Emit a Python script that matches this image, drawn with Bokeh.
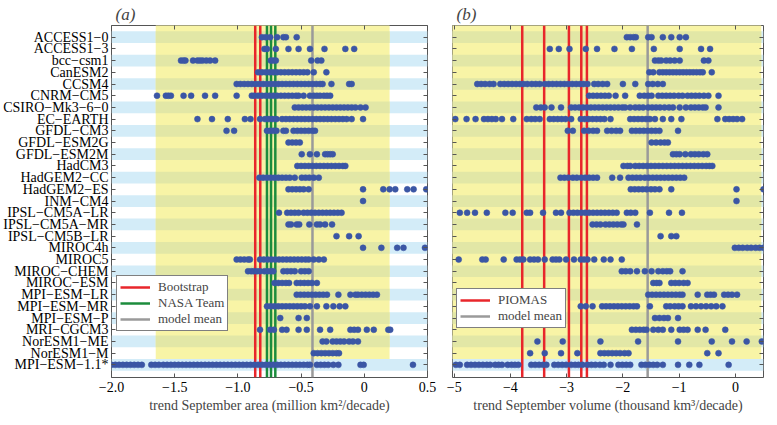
from bokeh.plotting import figure
from bokeh.models import Range1d, FixedTicker, LinearAxis, Legend, LegendItem
from bokeh.layouts import row
from bokeh.embed import file_html
from bokeh.resources import INLINE

models = ["ACCESS1−0", "ACCESS1−3", "bcc−csm1", "CanESM2", "CCSM4", "CNRM−CM5",
          "CSIRO−Mk3−6−0", "EC−EARTH", "GFDL−CM3", "GFDL−ESM2G", "GFDL−ESM2M",
          "HadCM3", "HadGEM2−CC", "HadGEM2−ES", "INM−CM4", "IPSL−CM5A−LR",
          "IPSL−CM5A−MR", "IPSL−CM5B−LR", "MIROC4h", "MIROC5", "MIROC−CHEM",
          "MIROC−ESM", "MPI−ESM−LR", "MPI−ESM−MR", "MPI−ESM−P", "MRI−CGCM3",
          "NorESM1−ME", "NorESM1−M", "MPI−ESM−1.1*"]

# September sea-ice AREA trends per model member (million km2/decade)
area_trends = [
    [-0.81, -0.78, -0.745, -0.69, -0.64, -0.62, -0.535],
    [-0.79, -0.77, -0.70, -0.60, -0.52, -0.43, -0.315, -0.15, -0.08],
    [-1.45, -1.43, -1.415, -1.355, -1.32, -1.30, -1.28, -1.25, -1.22, -1.18, -0.74, -0.72, -0.70, -0.42, -0.37, -0.34],
    [-0.84, -0.81, -0.78, -0.75, -0.72, -0.69, -0.66, -0.63, -0.60, -0.57, -0.54, -0.51, -0.48, -0.45, -0.40, -0.30],
    [-1.01, -0.98, -0.95, -0.92, -0.89, -0.86, -0.83, -0.80, -0.77, -0.74, -0.71, -0.68, -0.65, -0.62, -0.59, -0.56,
     -0.53, -0.50, -0.47, -0.44, -0.41, -0.38, -0.35, -0.33, -0.26, -0.12, -0.10],
    [-1.64, -1.57, -1.55, -1.53, -1.43, -1.37, -1.26, -1.18, -1.01, -0.89, -0.87, -0.84, -0.81, -0.78, -0.75, -0.72,
     -0.69, -0.66, -0.63, -0.60, -0.57, -0.54, -0.52, -0.48, -0.43, -0.40, -0.375, -0.35, -0.32, -0.295, -0.27],
    [-0.55, -0.52, -0.49, -0.46, -0.43, -0.40, -0.37, -0.34, -0.31, -0.28, -0.25, -0.22, -0.19, -0.16, -0.13, -0.10,
     -0.07, -0.03, 0.01],
    [-1.32, -1.205, -1.08, -0.945, -0.90, -0.825, -0.785, -0.755, -0.725, -0.695, -0.65, -0.62, -0.59, -0.56, -0.53,
     -0.50, -0.47, -0.44, -0.41, -0.38, -0.35, -0.32, -0.29, -0.26, -0.23, -0.20, -0.17, -0.14, -0.10, -0.01],
    [-1.09, -1.03, -0.77, -0.745, -0.72, -0.695, -0.64, -0.62, -0.56, -0.53, -0.50, -0.47, -0.44, -0.41, -0.39],
    [-0.60, -0.57, -0.54, -0.51],
    [-0.495, -0.43, -0.375, -0.31, -0.29, -0.27, -0.25],
    [-0.53, -0.50, -0.47, -0.44, -0.41, -0.38, -0.35, -0.32, -0.29, -0.26, -0.23, -0.20, -0.17, -0.15],
    [-0.83, -0.80, -0.77, -0.74, -0.71, -0.68, -0.65, -0.62, -0.59, -0.55, -0.495, -0.465, -0.435, -0.40, -0.36],
    [-0.60, -0.57, -0.54, -0.51, -0.48, -0.44, -0.01, 0.15, 0.20, 0.245, 0.34, 0.39, 0.49],
    [-0.01],
    [-0.675, -0.61, -0.58, -0.55, -0.52, -0.48, -0.45, -0.42, -0.39, -0.36, -0.33, -0.30, -0.27, -0.24, -0.21, -0.18],
    [-0.60, -0.58, -0.535, -0.515, -0.435, -0.375, -0.35, -0.31, -0.255],
    [-0.22, -0.12, -0.045],
    [-0.01, 0.135, 0.26, 0.31, 0.48],
    [-1.01, -0.98, -0.95, -0.92, -0.905, -0.825, -0.795, -0.765, -0.735, -0.705, -0.675, -0.645, -0.615, -0.585,
     -0.555, -0.525, -0.495, -0.465, -0.44, -0.40, -0.36, -0.32],
    [-0.92, -0.895, -0.875, -0.85, -0.825, -0.79, -0.765, -0.74, -0.72, -0.64, -0.61, -0.58, -0.55, -0.50, -0.47, -0.44],
    [-0.71, -0.68, -0.65, -0.62, -0.595, -0.535, -0.505, -0.475, -0.445, -0.415, -0.375],
    [-0.535, -0.505, -0.475, -0.445, -0.415, -0.385, -0.355, -0.325, -0.295, -0.205, -0.11, -0.07, -0.05, -0.02,
     0.01, 0.04, 0.07, 0.10],
    [-0.77, -0.74, -0.71, -0.68, -0.65, -0.62, -0.59, -0.56, -0.53, -0.50, -0.47, -0.43, -0.375, -0.30, -0.245,
     -0.195, -0.15],
    [-0.665, -0.52, -0.455],
    [-0.825, -0.745, -0.715, -0.65, -0.615, -0.52, -0.455, -0.35, -0.27, -0.11, -0.08, -0.05, 0.02, 0.075, 0.19, 0.205],
    [-0.33, -0.30, -0.25, -0.22, -0.19, -0.16, -0.12, -0.09, -0.05],
    [-0.40, -0.37, -0.34, -0.31, -0.28, -0.25, -0.22, -0.20],
    [-2.00, -1.97, -1.94, -1.91, -1.88, -1.85, -1.82, -1.79, -1.76, -1.685, -1.655, -1.625, -1.59, -1.56, -1.53,
     -1.50, -1.47, -1.44, -1.41, -1.38, -1.35, -1.32, -1.29, -1.26, -1.23, -1.20, -1.17, -1.14, -1.11, -1.08, -1.05,
     -1.02, -0.99, -0.96, -0.93, -0.90, -0.87, -0.84, -0.81, -0.78, -0.75, -0.72, -0.69, -0.66, -0.63, -0.60, -0.57,
     -0.54, -0.51, -0.48, -0.45, -0.43, -0.375, -0.345, -0.315, -0.285, -0.245, -0.205, -0.03, -0.005, 0.385],
]

# September sea-ice VOLUME trends per model member (thousand km3/decade)
volume_trends = [
    [-1.93, -1.87, -1.81, -1.77, -1.55, -1.49, -1.29, -1.14, -0.99, -0.88],
    [-3.30, -3.14, -2.95, -2.66, -2.46, -2.15, -1.84, -1.45, -0.99, -0.61, -0.45],
    [-1.43, -1.37, -1.32, -1.23, -1.16, -1.08, -0.99, -0.56, -0.48],
    [-1.53, -1.46, -1.35, -1.29, -1.23, -1.17, -1.11, -1.05, -0.99, -0.93, -0.87, -0.81, -0.75, -0.69, -0.63, -0.58, -0.42],
    [-4.59, -4.52, -4.45, -4.37, -4.30, -4.18, -4.11, -4.04, -3.97, -3.90, -3.83, -3.77, -3.70, -3.62, -3.55, -3.48,
     -3.39, -3.32, -3.25, -3.18, -3.11, -3.04, -2.97, -2.90, -2.83, -2.76, -2.70, -2.63, -2.51, -2.44, -2.36, -2.28,
     -2.00, -1.78, -1.55, -1.47, -1.38, -1.29],
    [-2.60, -2.53, -2.46, -2.39, -2.32, -2.25, -2.13, -1.96, -1.70, -1.62, -1.55, -1.49, -1.37, -1.30, -1.23, -1.16,
     -1.09, -1.01, -0.94, -0.85, -0.78, -0.71, -0.64, -0.56, -0.48, -0.30],
    [-3.54, -3.46, -3.39, -3.27, -3.10, -2.92, -2.85, -2.78, -2.71, -2.64, -2.57, -2.50, -2.43, -2.36, -2.29, -2.22,
     -2.15, -2.08, -2.01, -1.96, -1.87, -1.78, -1.71, -1.64, -1.55, -1.48, -1.41, -1.34, -1.26, -1.18, -1.11, -0.99,
     -0.88, -0.79, -0.72, -0.65, -0.58, -0.53, -0.30],
    [-4.98, -4.78, -4.62, -4.47, -4.40, -4.33, -4.26, -4.15, -3.95, -3.71, -3.63, -3.56, -3.48, -3.30, -3.23, -3.16,
     -3.09, -3.02, -2.92, -2.75, -2.68, -2.61, -2.54, -2.47, -2.40, -2.33, -2.22, -1.87, -1.80, -1.73, -1.66, -1.59,
     -1.52, -1.43, -1.29, -1.14, -0.96, -0.32, -0.18, -0.11, -0.04, 0.03, 0.12],
    [-2.98, -2.89, -2.69, -2.61, -2.53, -2.46, -2.28, -2.20, -2.12, -2.05, -1.84, -1.77, -1.70, -1.63, -1.56, -1.49,
     -1.42, -1.35, -1.02],
    [-1.49, -1.41, -1.33, -1.26, -1.20],
    [-1.11, -1.05, -0.99, -0.89, -0.79, -0.72, -0.65, -0.57, -0.50],
    [-1.99, -1.92, -1.87, -1.78, -1.71, -1.64, -1.57, -1.50, -1.43, -1.36, -1.29, -1.22, -1.15, -1.08, -1.01, -0.94,
     -0.87, -0.80, -0.73, -0.66, -0.59, -0.52, -0.46, -0.41],
    [-3.11, -3.04, -2.97, -2.89, -2.82, -2.74, -2.67, -2.60, -2.53, -2.46, -2.19, -2.05, -1.90, -1.83, -1.76, -1.69,
     -1.61, -1.54, -1.47, -1.40, -1.33, -1.26, -1.19, -1.12, -1.05, -0.98, -0.91],
    [-1.86, -1.79, -1.72, -1.65, -1.58, -1.50, -1.43, -1.35, -1.14, 0.02, 0.50],
    [0.02],
    [-4.90, -4.77, -4.63, -4.42, -4.09, -3.96, -3.71, -3.65, -3.42, -3.19, -3.10, -2.95, -2.88, -2.81, -2.74, -2.67,
     -2.60, -2.53, -2.46, -2.39, -2.32, -2.25, -2.18, -2.11, -1.93, -1.86, -1.78, -1.52, -1.18, -0.95],
    [-2.54, -2.47, -2.40, -2.31, -2.24, -2.17, -2.10, -2.03, -1.99, -1.75],
    [-1.33, -1.14, -1.05],
    [-0.01, 0.06, 0.13, 0.21, 0.28, 0.36, 0.43, 0.50],
    [-4.92, -4.50, -4.44, -4.12, -3.89, -3.83, -3.77, -3.65, -3.58, -3.51, -3.39, -3.25, -3.19, -3.13, -3.01, -2.87,
     -2.75, -2.69, -2.63, -2.51, -2.34, -2.22, -2.02],
    [-2.02, -1.95, -1.87, -1.75, -1.61, -1.49, -1.37, -1.29, -1.22, -1.16, -0.94],
    [-1.46, -1.40, -1.35, -1.14, -1.07, -1.00, -0.92, -0.85],
    [-1.55, -1.48, -1.41, -1.34, -1.27, -1.20, -1.13, -1.06, -0.99, -0.94, -0.67, -0.50, -0.44, -0.38, -0.20, -0.13,
     -0.06, 0.03],
    [-2.75, -2.66, -2.54, -2.37, -2.30, -2.23, -2.16, -2.09, -2.02, -1.95, -1.88, -1.81, -1.75, -1.52, -1.23, -1.16,
     -1.08, -1.01, -0.94, -0.79, -0.70, -0.61, -0.52, -0.43, -0.34, -0.23],
    [-1.43, -1.35, -1.27, -1.20, -1.02],
    [-1.84, -1.77, -1.70, -1.63, -1.58, -1.46, -1.37, -1.29, -1.14, -0.99, -0.92, -0.85, -0.67, -0.53, -0.18],
    [-3.52, -3.07, -2.40, -1.73, -1.02, -0.42, -0.06, 0.20, 0.47],
    [-3.65, -3.39, -3.10, -2.81, -2.40, -2.33, -2.26, -2.19, -2.12, -2.05, -1.97, -1.90, -0.50, -0.30],
    [-4.97, -4.90, -4.77, -4.70, -4.63, -4.56, -4.49, -4.42, -4.36, -4.27, -4.21, -4.15, -4.05, -3.98, -3.92, -3.86,
     -3.63, -3.56, -3.49, -3.42, -3.36, -3.22, -3.15, -3.08, -3.01, -2.92, -2.85, -2.79, -2.72, -2.63, -2.56, -2.49,
     -2.41, -2.34, -2.22, -2.08, -2.01, -1.94, -1.87, -1.67, -1.60, -1.53, -1.46, -1.39, -1.29, -1.02, -0.82, -0.64,
     -0.12],
]

# observational / reference trends
bootstrap = [-0.863, -0.823]
nasa_team = [-0.770, -0.738, -0.704]
area_model_mean = [-0.41]
piomas = [-3.79, -3.40, -2.96, -2.74, -2.64]
volume_model_mean = [-1.56]

# shaded (yellow) range of each panel
area_band = [-1.65, 0.20]
volume_band = [-5.60, 0.46]

area_ticks = [-2.0, -1.5, -1.0, -0.5, 0.0, 0.5]
area_tick_labels = ["−2.0", "−1.5", "−1.0", "−0.5", "0", "0.5"]
volume_ticks = [-5, -4, -3, -2, -1, 0]
volume_tick_labels = ["−5", "−4", "−3", "−2", "−1", "0"]

FONT = "Liberation Serif"
DOT = "#3b56a5"
RED = "#e8262b"
GREEN = "#1c8c3c"
GREY = "#9a9a9a"
YELLOW = "#f8f4a6"
GREENISH = "#e2e7a6"
BLUE = "#d3ecf8"

n = len(models)
Y_TOP, Y_BOT = -1.0, n + 0.08


def hide_labels(ax):
    ax.major_label_overrides = {}
    ax.major_label_text_color = None
    ax.major_label_text_font_size = "6px"
    ax.major_label_standoff = 0


def make_panel(title, xr, band, trends, ticks, tick_labels, xlabel, show_names, fw, bl, br):
    p = figure(width=10, height=10, frame_width=fw, frame_height=352,
               x_range=Range1d(*xr), y_range=Range1d(Y_BOT, Y_TOP),
               output_backend="svg", toolbar_location=None, tools="",
               min_border_left=bl, min_border_right=br, min_border_top=0, min_border_bottom=0)
    p.grid.visible = False
    p.outline_line_color = "#555555"
    p.outline_line_width = 1
    p.background_fill_color = "white"
    p.border_fill_color = "white"

    xlo, xhi = xr[0] - 1, xr[1] + 1
    even = list(range(0, n, 2))
    # light blue stripes on even rows (full width)
    p.hbar(y=even, height=1.0, left=xlo, right=xhi, fill_color=BLUE, line_color=None)
    # yellow band
    p.quad(left=[band[0]], right=[band[1]], top=[Y_TOP - 1], bottom=[n - 1.5],
           fill_color=YELLOW, line_color=None)
    # greenish stripes inside band
    even_in = [r for r in even if r < n - 1]
    p.hbar(y=even_in, height=1.0, left=band[0], right=band[1], fill_color=GREENISH, line_color=None)

    xs, ys = [], []
    for i, vals in enumerate(trends):
        xs += vals
        ys += [i] * len(vals)

    p.title.text = title
    p.title.text_font = FONT
    p.title.text_font_size = "17px"
    p.title.text_font_style = "italic"
    p.title.align = "left"
    p.title.offset = 4
    p.title.standoff = 4

    xa = p.xaxis[0]
    xa.ticker = FixedTicker(ticks=ticks)
    xa.major_label_overrides = dict(zip(ticks, tick_labels))
    xa.axis_label = xlabel
    xa.axis_label_text_font = FONT
    xa.axis_label_text_font_size = "14px"
    xa.axis_label_text_font_style = "normal"
    xa.axis_label_standoff = 3
    xa.major_label_text_font = FONT
    xa.major_label_text_font_size = "14px"
    xa.major_label_standoff = 4
    ya = p.yaxis[0]
    ya.ticker = FixedTicker(ticks=list(range(n)))
    if show_names:
        ya.major_label_overrides = {i: m for i, m in enumerate(models)}
        ya.major_label_text_font = FONT
        ya.major_label_text_font_size = "14px"
        ya.major_label_standoff = 3
        ya.major_label_text_color = "black"
    else:
        hide_labels(ya)

    top = LinearAxis(ticker=FixedTicker(ticks=ticks))
    right = LinearAxis(ticker=FixedTicker(ticks=list(range(n))))
    hide_labels(top)
    hide_labels(right)
    p.add_layout(top, "above")
    p.add_layout(right, "right")
    for ax in [xa, ya, top, right]:
        ax.major_tick_in = 4
        ax.major_tick_out = 0
        ax.minor_tick_line_color = None
        ax.axis_line_color = None
        ax.major_tick_line_color = "#555555"
    xa.major_label_text_color = "black"
    return p, xs, ys


p1, xs1, ys1 = make_panel("(a)", (-2.0, 0.5), area_band, area_trends, area_ticks, area_tick_labels,
                          "trend September area (million km²/decade)", True, 316, 108, 13)
r_boot = p1.segment(x0=bootstrap, x1=bootstrap, y0=[Y_TOP] * len(bootstrap), y1=[Y_BOT] * len(bootstrap),
                    line_color=RED, line_width=2.5)
r_nasa = p1.segment(x0=nasa_team, x1=nasa_team, y0=[Y_TOP] * len(nasa_team), y1=[Y_BOT] * len(nasa_team),
                    line_color=GREEN, line_width=2.5)
r_mean1 = p1.segment(x0=area_model_mean, x1=area_model_mean, y0=[Y_TOP], y1=[Y_BOT],
                     line_color=GREY, line_width=2.5)
p1.scatter(xs1, ys1, size=6, fill_color=DOT, line_color=DOT, line_width=0.5)

p2, xs2, ys2 = make_panel("(b)", (-5.03, 0.5), volume_band, volume_trends, volume_ticks, volume_tick_labels,
                          "trend September volume (thousand km³/decade)", False, 311, 12, 1)
r_pio = p2.segment(x0=piomas, x1=piomas, y0=[Y_TOP] * len(piomas), y1=[Y_BOT] * len(piomas),
                   line_color=RED, line_width=2.5)
r_mean2 = p2.segment(x0=volume_model_mean, x1=volume_model_mean, y0=[Y_TOP], y1=[Y_BOT],
                     line_color=GREY, line_width=2.5)
p2.scatter(xs2, ys2, size=6, fill_color=DOT, line_color=DOT, line_width=0.5)


def style_legend(items, loc):
    lg = Legend(items=items, location=loc, orientation="vertical")
    lg.label_text_font = FONT
    lg.label_text_font_size = "13px"
    lg.glyph_width = 30
    lg.glyph_height = 12
    lg.label_height = 12
    lg.label_standoff = 8
    lg.spacing = 0
    lg.padding = 3
    lg.margin = 0
    lg.border_line_color = "black"
    lg.border_line_width = 1
    lg.background_fill_color = "white"
    lg.background_fill_alpha = 1.0
    return lg


p1.add_layout(style_legend([LegendItem(label="Bootstrap", renderers=[r_boot]),
                            LegendItem(label="NASA Team", renderers=[r_nasa]),
                            LegendItem(label="model mean", renderers=[r_mean1])], (5, 46)))
p2.add_layout(style_legend([LegendItem(label="PIOMAS", renderers=[r_pio]),
                            LegendItem(label="model mean", renderers=[r_mean2])], (4, 49)))

layout = row(p1, p2)
open("out.html", "w").write(file_html(layout, INLINE))
